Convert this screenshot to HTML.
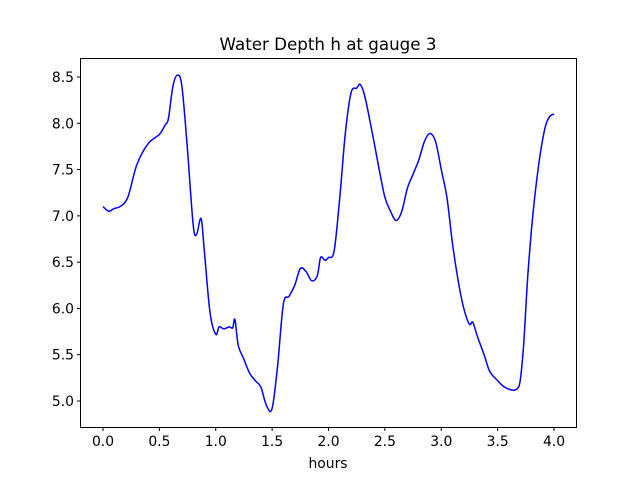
<!DOCTYPE html>
<html><head><meta charset="utf-8"><style>
body{margin:0;background:#fff;}
svg text{font-family:"DejaVu Sans","Liberation Sans",sans-serif;font-size:13.9px;fill:#000;}
</style></head><body>
<svg id="s" width="640" height="480" xmlns="http://www.w3.org/2000/svg">
<rect x="0" y="0" width="640" height="480" fill="#fff"/>
<text x="328" y="50" text-anchor="middle" style="font-size:16.7px">Water Depth h at gauge 3</text>
<text x="328" y="468" text-anchor="middle">hours</text>
<g id="ax"></g>
<path id="pl" fill="none" stroke="#0000ff" stroke-width="1.5" stroke-linejoin="round"/>
<rect x="80.5" y="58.5" width="496" height="369" fill="none" stroke="#000" stroke-width="1"/>
</svg>
<script>
var X=function(t){return 103+112.75*t;},Y=function(v){return 401-(v-5)*92.57;};
var d=[[0,7.1],[0.05,7.05],[0.1,7.08],[0.15,7.1],[0.22,7.2],[0.3,7.55],[0.4,7.78],[0.5,7.88],[0.55,7.98],[0.58,8.05],[0.62,8.4],[0.66,8.52],[0.7,8.4],[0.75,7.7],[0.8,6.9],[0.83,6.8],[0.87,6.97],[0.9,6.6],[0.95,5.95],[1.0,5.72],[1.03,5.8],[1.07,5.78],[1.12,5.8],[1.15,5.79],[1.17,5.88],[1.2,5.6],[1.25,5.45],[1.3,5.3],[1.35,5.22],[1.4,5.15],[1.45,4.95],[1.5,4.92],[1.55,5.4],[1.6,6.05],[1.65,6.13],[1.7,6.25],[1.75,6.43],[1.8,6.4],[1.85,6.3],[1.9,6.35],[1.93,6.55],[1.97,6.52],[2.0,6.55],[2.05,6.62],[2.1,7.2],[2.15,7.9],[2.2,8.33],[2.25,8.38],[2.28,8.42],[2.32,8.3],[2.38,7.95],[2.45,7.5],[2.5,7.2],[2.55,7.05],[2.6,6.95],[2.65,7.05],[2.7,7.3],[2.75,7.45],[2.8,7.6],[2.85,7.8],[2.9,7.89],[2.95,7.8],[3.0,7.5],[3.05,7.2],[3.1,6.7],[3.15,6.3],[3.2,6.0],[3.25,5.83],[3.28,5.85],[3.32,5.7],[3.38,5.5],[3.43,5.32],[3.5,5.22],[3.55,5.16],[3.62,5.12],[3.67,5.13],[3.7,5.22],[3.73,5.6],[3.77,6.4],[3.82,7.1],[3.87,7.6],[3.92,7.95],[3.96,8.07],[4.0,8.1]];
var P=d.map(function(p){return [X(p[0]),Y(p[1])];});
var s='M'+P[0][0]+','+P[0][1];
for(var i=0;i<P.length-1;i++){var p0=P[Math.max(i-1,0)],p1=P[i],p2=P[i+1],p3=P[Math.min(i+2,P.length-1)];
var c1x=p1[0]+(p2[0]-p0[0])/6,c1y=p1[1]+(p2[1]-p0[1])/6,c2x=p2[0]-(p3[0]-p1[0])/6,c2y=p2[1]-(p3[1]-p1[1])/6;
s+=' C'+c1x.toFixed(1)+','+c1y.toFixed(1)+' '+c2x.toFixed(1)+','+c2y.toFixed(1)+' '+p2[0].toFixed(1)+','+p2[1].toFixed(1);}
document.getElementById('pl').setAttribute('d',s);
var g='';
for(var i=0;i<=8;i++){var t=i*0.5,x=X(t);g+='<line x1="'+x+'" y1="427.5" x2="'+x+'" y2="431" stroke="#000"/><text x="'+x+'" y="446" text-anchor="middle">'+t.toFixed(1)+'</text>';}
for(var i=0;i<=7;i++){var v=5+i*0.5,y=Y(v);g+='<line x1="80.5" y1="'+y+'" x2="77" y2="'+y+'" stroke="#000"/><text x="74" y="'+(y+5)+'" text-anchor="end">'+v.toFixed(1)+'</text>';}
document.getElementById('ax').innerHTML=g;
</script>
</body></html>
